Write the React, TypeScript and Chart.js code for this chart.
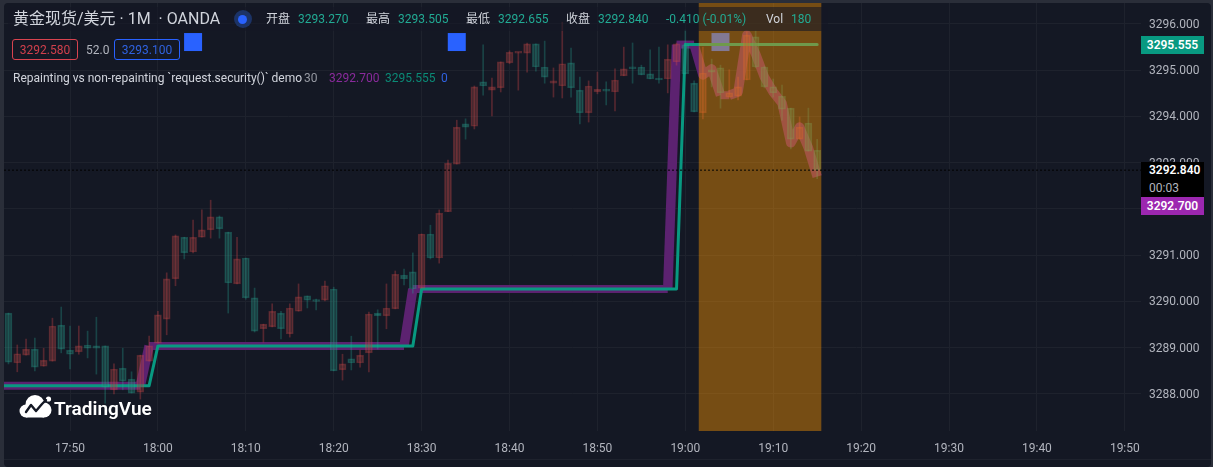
import React, { useEffect, useRef } from "react";
import Chart from "chart.js/auto";

const startMinute = 1063;
const opens = [
  3289.75,3288.67,3288.84,3288.97,3288.60,3288.71,3289.49,3288.95,3288.91,3289.06,
  3289.04,3289.04,3288.09,3288.56,3288.32,3288.04,3288.71,3289.10,3289.62,3290.49,
  3291.39,3291.07,3291.39,3291.55,3291.83,3291.50,3290.38,3290.94,3290.08,3289.41,
  3289.45,3289.75,3289.30,3289.79,3290.12,3290.02,3290.03,3290.27,3288.52,3288.76,
  3288.67,3288.89,3289.75,3289.69,3289.84,3290.57,3290.64,3290.29,3291.46,3290.94,
  3291.94,3292.97,3293.84,3293.79,3294.75,3294.57,3294.62,3295.16,3295.37,3295.37,
  3295.57,3295.07,3294.72,3294.66,3295.16,3294.57,3294.08,3294.53,3294.59,3294.53,
  3294.88,3295.07,3295.07,3294.92,3294.83,3294.81,3295.18,3295.55,3294.72,3294.08,
  3295.01,3295.05,3294.42,3294.44,3294.79,3295.72,3295.07,3294.64,3294.44,3294.18,
  3293.51,3293.86,3293.27,
];
const closes = [
  3288.69,3288.87,3288.97,3288.58,3288.73,3289.47,3288.97,3288.86,3289.04,3288.99,
  3288.99,3288.15,3288.54,3288.28,3288.02,3288.84,3289.04,3289.71,3290.49,3291.42,
  3291.05,3291.39,3291.55,3291.83,3291.57,3290.40,3290.92,3290.08,3289.36,3289.51,
  3289.79,3289.41,3289.86,3290.10,3290.03,3290.00,3290.34,3288.50,3288.65,3288.67,
  3288.84,3289.73,3289.69,3289.86,3290.59,3290.49,3290.27,3291.46,3290.94,3291.91,
  3292.99,3293.77,3293.77,3294.64,3294.66,3294.64,3295.18,3295.39,3295.39,3295.57,
  3295.07,3294.85,3294.77,3295.14,3294.62,3294.08,3294.66,3294.59,3294.55,3294.79,
  3295.03,3295.03,3294.90,3294.81,3294.79,3295.24,3295.57,3294.92,3294.10,3294.94,
  3294.96,3294.51,3294.51,3294.64,3295.76,3295.07,3294.64,3294.51,3294.16,3293.51,
  3293.77,3293.25,3292.84,
];
const highs = [
  3289.75,3289.06,3289.19,3289.21,3288.99,3289.64,3289.88,3289.47,3289.47,3289.36,
  3289.66,3289.04,3288.65,3288.99,3288.48,3288.84,3289.25,3289.79,3290.62,3291.44,
  3291.39,3291.76,3291.98,3292.19,3291.85,3291.50,3291.39,3290.94,3290.29,3289.51,
  3289.95,3289.79,3289.95,3290.38,3290.12,3290.05,3290.44,3290.31,3288.86,3289.25,
  3288.95,3289.77,3289.82,3290.38,3290.66,3290.70,3291.05,3291.46,3291.65,3291.98,
  3293.06,3293.92,3293.95,3294.66,3295.55,3294.83,3295.18,3295.42,3295.39,3295.59,
  3295.57,3295.63,3295.05,3296.04,3295.48,3294.85,3294.77,3294.96,3294.75,3295.03,
  3295.50,3295.59,3295.11,3295.44,3295.50,3295.55,3295.59,3295.87,3294.77,3295.50,
  3295.24,3295.11,3295.01,3294.85,3295.83,3295.85,3295.09,3294.81,3294.68,3294.18,
  3293.99,3294.18,3293.505,
];
const lows = [
  3288.65,3288.48,3288.84,3288.50,3288.60,3288.71,3288.89,3288.54,3288.86,3288.78,
  3288.43,3287.80,3288.00,3288.09,3288.02,3287.89,3288.71,3289.10,3289.28,3290.34,
  3290.92,3291.05,3291.39,3291.37,3291.37,3289.75,3290.38,3290.05,3289.34,3289.12,
  3289.45,3289.19,3289.23,3289.79,3289.86,3289.82,3290.01,3288.50,3288.30,3288.52,
  3288.58,3288.48,3288.97,3289.41,3289.84,3290.36,3290.18,3290.29,3290.92,3290.83,
  3291.94,3292.97,3293.51,3293.73,3294.46,3294.01,3294.53,3295.14,3294.57,3294.96,
  3294.98,3294.72,3294.42,3294.40,3294.42,3293.84,3293.88,3294.49,3294.25,3294.12,
  3294.88,3294.72,3294.90,3294.81,3294.72,3294.51,3295.11,3294.92,3294.10,3293.95,
  3294.64,3294.18,3294.42,3294.36,3294.79,3295.05,3294.62,3294.42,3293.92,3293.30,
  3293.51,3293.25,3292.655,
];

const purpleTimes = [1062,1078,1079,1108,1109,1138,1139,1140,1141,1142,1143,1144,1145,1146,1147,1148,1149,1150,1151,1152,1153,1154,1155];
const purpleValues = [3288.18,3288.18,3289.04,3289.04,3290.27,3290.27,3295.555,3295.555,3295.555,3294.9,3295.03,3294.46,3294.46,3294.53,3295.76,3295.35,3294.85,3294.53,3294.29,3293.43,3293.77,3293.32,3292.70];
const tealTimes = [1062,1079,1080,1109,1110,1139,1140,1155];
const tealValues = [3288.18,3288.18,3289.04,3289.04,3290.27,3290.27,3295.555,3295.555];
const markerTimes = [1084,1114,1144];
const markerValue = 3295.61;
const zoneStart = 1141.5;
const zoneEnd = 1155.5;
const lastClose = 3292.84;

const xMin = 1062.49;
const xMax = 1191.84;
const yMin = 3287.2;
const yMax = 3296.454;

const minutes = opens.map((_, i) => startMinute + i);
const isUp = opens.map((o, i) => closes[i] >= o);
const pairs = (xs: number[], ys: number[]) => xs.map((x, i) => ({ x, y: ys[i] }));
const hhmm = (m: number) => `${Math.floor(m / 60)}:${String(m % 60).padStart(2, "0")}`;

const FONT = 'Roboto, "Noto Sans CJK SC", sans-serif';
const TEAL = "#22ab94";

function T({ x, y, c, s = 12, w = 400, children }: any) {
  return (
    <span style={{ position: "absolute", left: x, top: y, transform: "translateY(-50%)", color: c, fontSize: s, fontWeight: w, fontFamily: FONT, whiteSpace: "pre", lineHeight: 1 }}>
      {children}
    </span>
  );
}

function Box({ x, y, w, h, bg, border, radius = 0, children, color, bold, size = 12 }: any) {
  return (
    <div style={{ position: "absolute", left: x, top: y, width: w, height: h, background: bg, border, borderRadius: radius, boxSizing: "border-box", color, fontFamily: FONT, fontSize: size, fontWeight: bold ? 600 : 400, display: "flex", alignItems: "center", justifyContent: "center" }}>
      {children}
    </div>
  );
}

export default function App() {
  const ref = useRef<HTMLCanvasElement>(null);
  useEffect(() => {
    document.body.style.margin = "0";
    const chart = new Chart(ref.current!, {
      type: "bar",
      data: {
        datasets: [
          { type: "line", data: pairs(markerTimes, markerTimes.map(() => markerValue)), showLine: false, pointStyle: "rect", pointRadius: 12.73, pointBackgroundColor: "#2962ff", pointBorderWidth: 0, order: 8 },
          {
            type: "line", data: pairs(purpleTimes, purpleValues), borderColor: "#5c2270", borderWidth: 9.5, pointRadius: 0, tension: 0, borderJoinStyle: "round", borderCapStyle: "butt", order: 7,
            segment: { borderWidth: (ctx: any) => (ctx.p0.parsed.y === ctx.p1.parsed.y ? 8 : 9.5) },
          },
          { type: "line", data: pairs(tealTimes, tealValues), borderColor: "#089981", borderWidth: 3, pointRadius: 0, tension: 0, borderJoinStyle: "round", borderCapStyle: "round", order: 6 },
          {
            type: "bar", grouped: false, barThickness: 1, order: 5,
            data: minutes.map((x, i) => ({ x, y: [lows[i], highs[i]] })),
            backgroundColor: isUp.map((u) => (u ? "rgba(210,70,74,0.34)" : "rgba(40,170,150,0.3)")),
          },
          {
            type: "bar", grouped: false, barThickness: 7, minBarLength: 2, order: 4, borderSkipped: false,
            data: minutes.map((x, i) => ({ x, y: [Math.min(opens[i], closes[i]), Math.max(opens[i], closes[i])] })),
            backgroundColor: isUp.map((u) => (u ? "rgba(156,68,68,0.34)" : "rgba(40,126,114,0.34)")),
            borderColor: isUp.map((u) => (u ? "rgba(220,76,74,0.32)" : "rgba(40,176,154,0.32)")),
            borderWidth: 1,
          },
          { type: "line", data: [{ x: zoneStart, y: yMax }, { x: zoneEnd, y: yMax }], borderWidth: 0, pointRadius: 0, fill: { value: yMin }, backgroundColor: "rgba(255,152,0,0.42)", order: 3 },
          { type: "line", data: [{ x: xMin, y: lastClose }, { x: xMax, y: lastClose }], borderColor: "#000000", borderWidth: 1, borderDash: [2, 2], pointRadius: 0, order: 2 },
        ] as any,
      },
      options: {
        responsive: false,
        animation: false,
        events: [],
        layout: { autoPadding: false, padding: { left: 4, top: 3, right: 0, bottom: 0 } },
        plugins: { legend: { display: false }, tooltip: { enabled: false } },
        scales: {
          x: {
            type: "linear", min: xMin, max: xMax, offset: false,
            afterFit: (a: any) => { a.height = 36; a.paddingLeft = 0; a.paddingRight = 0; },
            grid: { color: "#1e222d", drawTicks: false, offset: false },
            border: { display: false },
            ticks: { stepSize: 10, includeBounds: false, maxRotation: 0, autoSkip: false, padding: 11, color: "#b2b5be", font: { family: "Roboto", size: 12 }, callback: (v: any) => hhmm(Number(v)) },
          },
          y: {
            position: "right", min: yMin, max: yMax,
            afterFit: (a: any) => { a.width = 72; a.paddingTop = 0; a.paddingBottom = 0; },
            grid: { color: "#1e222d", drawTicks: false },
            border: { display: false },
            ticks: { stepSize: 1, includeBounds: false, padding: 8, labelOffset: 1, color: "#b2b5be", font: { family: "Roboto", size: 12 }, callback: (v: any) => Number(v).toFixed(3) },
          },
        },
      } as any,
    });
    return () => chart.destroy();
  }, []);

  return (
    <div style={{ position: "fixed", left: 0, top: 0, width: 1213, height: 467, background: "#2a2e39", overflow: "hidden" }}>
      <div style={{ position: "absolute", left: 4, top: 3, width: 1207, height: 464, background: "#141824", borderRadius: 4 }} />
      <div style={{ position: "absolute", left: 4, top: 459, width: 1207, height: 1, background: "#1e222d" }} />
      <canvas ref={ref} width={1213} height={467} style={{ position: "absolute", left: 0, top: 0, width: 1213, height: 467 }} />

      <div style={{ position: "absolute", left: 8, top: 7, width: 820, height: 24, background: "rgba(20,24,36,0.6)" }} />
      <T x={13} y={19} c="#d1d4dc" s={16}>黄金现货/美元 · 1M  · OANDA</T>
      <div style={{ position: "absolute", left: 234, top: 10, width: 18, height: 18, borderRadius: 9, background: "#1c3366" }} />
      <div style={{ position: "absolute", left: 238, top: 15, width: 9, height: 9, borderRadius: 5, background: "#2962ff" }} />
      <T x={266} y={19} c="#d1d4dc">开盘</T><T x={298} y={19} c={TEAL}>3293.270</T>
      <T x={366} y={19} c="#d1d4dc">最高</T><T x={398} y={19} c={TEAL}>3293.505</T>
      <T x={466} y={19} c="#d1d4dc">最低</T><T x={498} y={19} c={TEAL}>3292.655</T>
      <T x={566} y={19} c="#d1d4dc">收盘</T><T x={598} y={19} c={TEAL}>3292.840</T>
      <T x={666} y={19} c={TEAL}>-0.410 (-0.01%)</T>
      <T x={766} y={19} c="#d1d4dc">Vol</T><T x={791} y={19} c={TEAL}>180</T>

      <Box x={12} y={39} w={66} h={21} border="1px solid #d8434f" radius={3} color="#d0404c">3292.580</Box>
      <T x={86} y={50} c="#b2b5be">52.0</T>
      <Box x={114} y={39} w={66} h={21} border="1px solid #2962ff" radius={3} color="#2f62e0">3293.100</Box>

      <T x={13} y={78} c="#d1d4dc">Repainting vs non-repainting `request.security()` demo</T>
      <T x={304} y={78} c="#9598a1">30</T>
      <T x={329} y={78} c="#8a2a9c">3292.700</T>
      <T x={385} y={78} c="#0b8a76">3295.555</T>
      <T x={441} y={78} c="#2f62e0">0</T>

      <svg style={{ position: "absolute", left: 19, top: 395 }} width="33" height="23" viewBox="0 0 33 23">
        <g fill="#ffffff">
          <circle cx="7" cy="16" r="6.5" />
          <circle cx="16" cy="9.5" r="9.5" />
          <circle cx="25" cy="15" r="7.5" />
          <rect x="7" y="13" width="18" height="9.5" />
          <circle cx="29.5" cy="4" r="2.6" />
        </g>
        <polyline points="7,17 12,10 17,16 23,9 27,5" fill="none" stroke="#141824" strokeWidth="2.4" strokeLinejoin="round" strokeLinecap="round" />
      </svg>
      <T x={54} y={408} c="#ffffff" s={19} w={600}>TradingVue</T>

      <Box x={1141} y={36} w={63} h={18} bg="#089981" color="#ffffff" bold>3295.555</Box>
      <div style={{ position: "absolute", left: 1141, top: 162, width: 63, height: 35, background: "#000000" }} />
      <T x={1149} y={170} c="#ffffff" w={600}>3292.840</T>
      <T x={1149} y={188} c="#b2b5be">00:03</T>
      <Box x={1141} y={197} w={63} h={18} bg="#9c27b0" color="#ffffff" bold>3292.700</Box>
    </div>
  );
}
